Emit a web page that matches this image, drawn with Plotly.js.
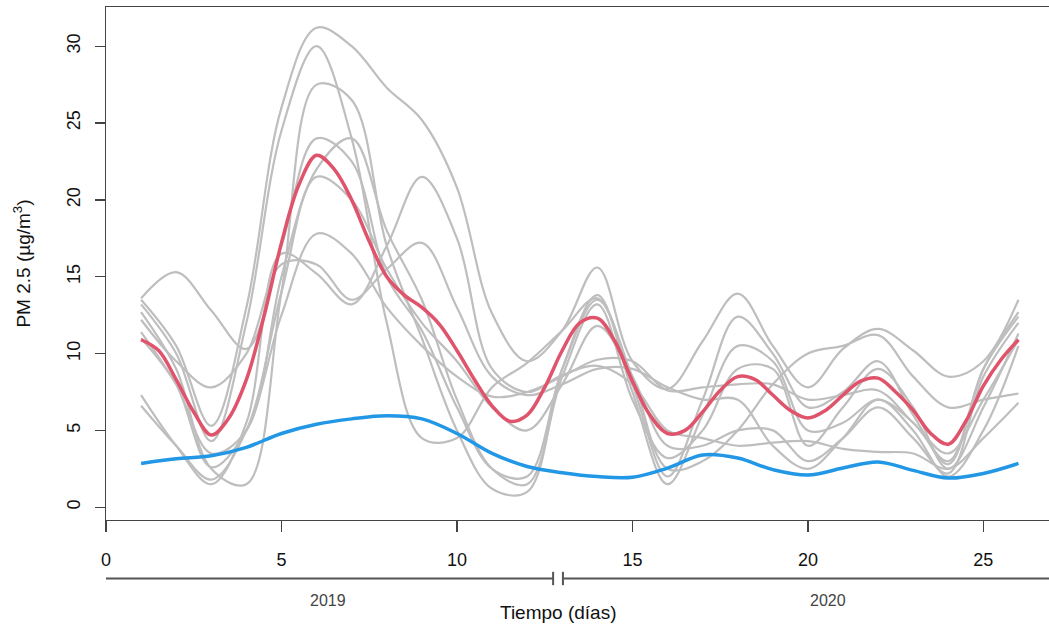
<!DOCTYPE html>
<html>
<head>
<meta charset="utf-8">
<script src="https://cdn.plot.ly/plotly-3.0.1.min.js"></script>
<style>html,body{margin:0;padding:0;background:#fff;}#chart{width:1049px;height:628px;}</style>
</head>
<body>
<div id="chart"></div>
<script>
// Days (x values) for the individual grey series and blue series
const dias = [1,2,3,4,5,6,7,8,9,10,11,12,13,14,15,16,17,18,19,20,21,22,23,24,25,26];
// Days for the red (mean) series, half-day sampling
const diasMedia = [1,1.5,2,2.5,3,3.5,4,4.5,5,5.5,6,6.5,7,7.5,8,8.5,9,9.5,10,10.5,11,11.5,12,12.5,13,13.5,14,14.5,15,15.5,16,16.5,17,17.5,18,18.5,19,19.5,20,20.5,21,21.5,22,22.5,23,23.5,24,24.5,25,25.5,26];

// Grey individual series (PM 2.5)
const serie1 = [13.5,10.5,5.3,13.0,26.0,31.2,30.0,27.3,25.2,20.8,12.6,9.5,11.5,15.6,9.5,7.7,10.8,13.9,10.5,7.8,10.3,11.6,10.2,8.5,9.5,13.5];
const serie2 = [13.2,10.0,4.3,12.0,24.5,30.0,24.0,12.0,4.5,4.5,7.8,9.4,11.5,13.6,8.0,2.0,7.0,12.4,10.0,6.5,7.5,9.5,6.0,2.8,9.0,12.7];
const serie3 = [12.7,9.0,2.5,1.5,14.0,27.5,26.5,17.0,11.0,5.0,1.2,1.0,9.0,13.8,7.5,1.5,6.0,10.5,9.5,5.0,5.5,7.0,5.5,3.0,9.0,12.4];
const serie4 = [13.6,15.3,12.8,10.3,17.0,24.0,22.5,15.0,11.5,6.5,2.5,2.0,9.0,13.5,8.5,2.5,3.0,5.0,8.0,10.0,10.5,11.2,8.5,6.5,7.0,7.4];
const serie5 = [11.4,8.0,3.5,5.0,15.0,22.0,24.0,18.0,13.5,7.0,2.5,1.5,8.5,13.2,7.0,3.2,5.0,9.0,9.0,4.0,6.5,9.0,6.5,2.5,6.5,11.3];
const serie6 = [6.6,4.0,1.8,5.0,14.0,21.5,20.0,15.5,12.0,9.5,6.5,5.0,8.0,11.8,8.5,4.0,4.0,5.0,5.0,3.0,4.5,6.5,4.5,2.2,8.5,12.0];
const serie7 = [11.0,8.0,2.6,5.0,12.5,17.8,16.5,13.0,10.5,8.5,7.2,7.5,8.5,9.6,9.5,7.6,7.8,8.0,8.0,7.0,7.3,7.6,5.5,3.5,7.0,10.9];
const serie8 = [7.3,4.0,1.5,5.5,16.5,15.2,13.2,17.0,21.5,17.5,9.0,7.5,8.6,9.2,8.0,5.0,4.5,4.0,4.2,4.3,3.8,3.6,3.5,2.5,4.5,6.8];
const serie9 = [12.2,9.5,7.8,10.0,15.8,15.8,13.5,15.5,17.2,13.0,8.5,7.3,8.0,9.0,9.0,7.8,7.0,7.0,4.0,2.5,4.5,7.0,5.0,2.0,5.0,10.5];

// Red mean series
const media = [10.9,10.2,8.3,6.2,4.7,5.8,8.3,12.4,17.2,21.0,22.9,22.0,20.0,17.3,15.0,13.8,13.0,11.9,10.2,8.3,6.6,5.6,6.0,7.8,10.2,12.0,12.3,10.8,8.2,6.0,4.8,5.0,6.2,7.6,8.5,8.3,7.3,6.3,5.8,6.3,7.3,8.2,8.4,7.5,6.3,4.8,4.1,5.6,7.9,9.6,10.9];

// Blue series
const azul = [2.85,3.15,3.35,3.9,4.8,5.4,5.75,5.95,5.75,4.8,3.5,2.65,2.25,2.0,1.95,2.55,3.4,3.2,2.45,2.1,2.55,2.95,2.4,1.9,2.2,2.85];

// Tick values
const xTicks = [0,5,10,15,20,25];
const yTicks = [0,5,10,15,20,25,30];
const periodos = ["2019","2020"];

const greys = [serie1,serie2,serie3,serie4,serie5,serie6,serie7,serie8,serie9];
const traces = greys.map(s => ({
  x: dias, y: s, type: 'scatter', mode: 'lines',
  line: {color: '#BEBEBE', width: 2.2, shape: 'spline', smoothing: 1},
  hoverinfo: 'skip', showlegend: false
}));
traces.push({x: dias, y: azul, type: 'scatter', mode: 'lines',
  line: {color: '#2297E6', width: 3.5, shape: 'spline', smoothing: 1}, showlegend: false});
traces.push({x: diasMedia, y: media, type: 'scatter', mode: 'lines',
  line: {color: '#DF536B', width: 3.5, shape: 'spline', smoothing: 1}, showlegend: false});

const font = 'Liberation Sans, Arial, sans-serif';
const layout = {
  width: 1049, height: 628,
  margin: {l: 106, r: 0, t: 7, b: 108, pad: 0},
  paper_bgcolor: '#fff', plot_bgcolor: '#fff',
  showlegend: false,
  font: {family: font, size: 18, color: '#000'},
  xaxis: {
    range: [0, 26.87], tickvals: xTicks, ticktext: xTicks.map(String),
    showgrid: false, zeroline: false,
    showline: true, mirror: true, linecolor: '#444', linewidth: 1.3,
    ticks: 'outside', ticklen: 11, tickwidth: 1.3, tickcolor: '#444',
    ticklabelstandoff: 12,
    tickfont: {family: font, size: 18, color: '#111'}
  },
  yaxis: {
    range: [-0.83, 32.55], tickvals: yTicks, ticktext: yTicks.map(String),
    showgrid: false, zeroline: false,
    showline: true, mirror: false, linecolor: '#444', linewidth: 1.3,
    ticks: 'outside', ticklen: 10, tickwidth: 1.3, tickcolor: '#444',
    tickangle: -90, ticklabelstandoff: 8,
    tickfont: {family: font, size: 18, color: '#111'},
    title: {text: 'PM 2.5 (µg/m<sup>3</sup>)', standoff: 28, font: {family: font, size: 19, color: '#111'}}
  },
  shapes: [
    {type: 'line', xref: 'x', yref: 'paper', x0: -0.08, x1: 12.74, y0: -0.114, y1: -0.114, line: {color: '#555', width: 2}},
    {type: 'line', xref: 'x', yref: 'paper', x0: -0.08, x1: -0.08, y0: -0.101, y1: -0.127, line: {color: '#555', width: 2}},
    {type: 'line', xref: 'x', yref: 'paper', x0: 12.74, x1: 12.74, y0: -0.101, y1: -0.127, line: {color: '#555', width: 2}},
    {type: 'line', xref: 'x', yref: 'paper', x0: 13.02, x1: 27.5, y0: -0.114, y1: -0.114, line: {color: '#555', width: 2}},
    {type: 'line', xref: 'x', yref: 'paper', x0: 13.02, x1: 13.02, y0: -0.101, y1: -0.127, line: {color: '#555', width: 2}}
  ],
  annotations: [
    {xref: 'x', yref: 'paper', x: 6.32, y: -0.156, text: periodos[0], showarrow: false, xanchor: 'center', yanchor: 'middle', font: {family: font, size: 16, color: '#444'}},
    {xref: 'x', yref: 'paper', x: 20.57, y: -0.156, text: periodos[1], showarrow: false, xanchor: 'center', yanchor: 'middle', font: {family: font, size: 16, color: '#444'}},
    {xref: 'x', yref: 'paper', x: 12.88, y: -0.181, text: 'Tiempo (días)', showarrow: false, xanchor: 'center', yanchor: 'middle', font: {family: font, size: 19, color: '#111'}}
  ]
};
Plotly.newPlot('chart', traces, layout, {displayModeBar: false, staticPlot: true});
</script>
</body>
</html>
